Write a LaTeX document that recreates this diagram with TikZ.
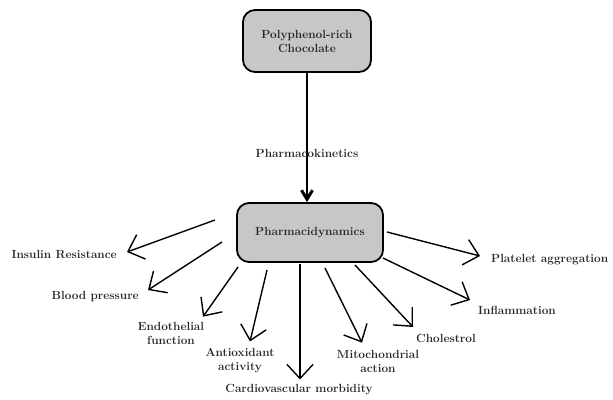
\documentclass[tikz,border=0pt]{standalone}
\usetikzlibrary{arrows.meta}
\begin{document}
\begin{tikzpicture}[x=1pt,y=-1pt,
        font=\fontsize{11.8}{14}\selectfont\bfseries,
        box/.style={draw,line width=1.8pt,rounded corners=12pt,fill=black!22,align=center},
        lbl/.style={align=center,inner sep=1pt,text=black!85},
        eff/.style={line width=1.4pt,line join=round,-{Straight Barb[length=14pt,width=26pt]}}]
    \useasboundingbox (0,0) rectangle (613,399);

    % the two boxes
    \node[box,minimum width=128pt,minimum height=62pt,text=black!85] (choc) at (307,41) {Polyphenol-rich\\Chocolate};
    \node[box,minimum width=146pt,minimum height=59pt,text=black!85] (pd) at (310,232.5) {Pharmacidynamics};

    \draw[line width=1.4pt,-{Straight Barb[length=9pt,width=11pt,line width=3pt]}] (choc) -- (choc |- pd.north)
        node[lbl,pos=0.62] (pk) {Pharmacokinetics};

    % the effects
    \node[lbl,anchor=east] (ir) at (118,254) {Insulin Resistance};
    \node[lbl,anchor=east] (bp) at (140,297) {Blood pressure};
    \node[lbl] (ef) at (171,333) {Endothelial\\function};
    \node[lbl] (aa) at (240,361) {Antioxidant\\activity};
    \node[lbl] (cv) at (299,390) {Cardiovascular morbidity};
    \node[lbl] (ma) at (378,361) {Mitochondrial\\action};
    \node[lbl,anchor=west] (ch) at (415,338) {Cholestrol};
    \node[lbl,anchor=west] (inf) at (477,310) {Inflammation};
    \node[lbl,anchor=west] (pa) at (490,260) {Platelet aggregation};

    \coordinate (t1) at (215,220);
    \coordinate (t2) at (222,242);
    \coordinate (t3) at (238,267);
    \coordinate (t4) at (267,270);
    \coordinate (t5) at (300,264);
    \coordinate (t6) at (325,268);
    \coordinate (t7) at (355,265);
    \coordinate (t8) at (383,258);
    \coordinate (t9) at (387,232);

    \draw[eff] (t1) -- ([shift={(9,-2)}]ir.east);
    \draw[eff] (t2) -- ([shift={(8,-7)}]bp.east);
    \draw[eff] (t3) -- ([shift={(32,-4)}]ef.north);
    \draw[eff] (t4) -- ([shift={(10,-6)}]aa.north);
    \draw[eff] (t5) -- ([shift={(1,-4)}]cv.north);
    \draw[eff] (t6) -- ([shift={(-16,-6)}]ma.north);
    \draw[eff] (t7) -- ([shift={(-2,-11)}]ch.west);
    \draw[eff] (t8) -- ([shift={(-7,-10)}]inf.west);
    \draw[eff] (t9) -- ([shift={(-10,-4)}]pa.west);
\end{tikzpicture}
\end{document}
